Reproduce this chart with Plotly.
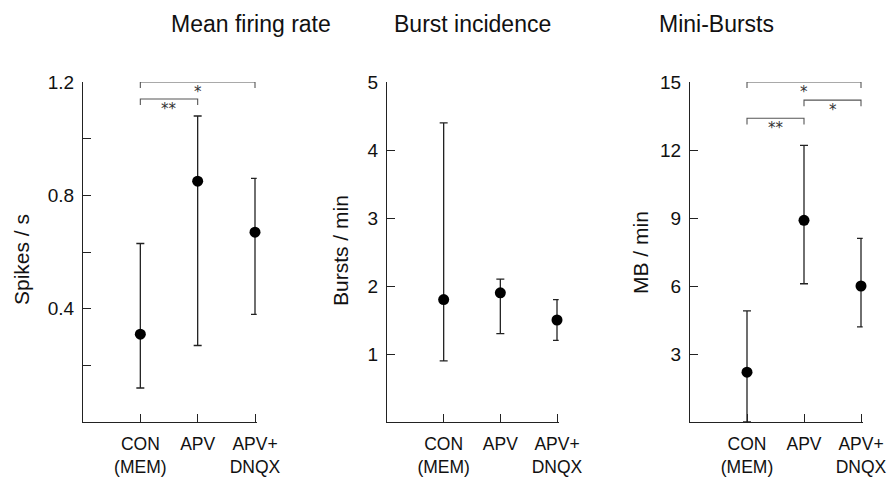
import plotly.graph_objects as go

categories = ["CON<br>(MEM)", "APV", "APV+<br>DNQX"]
cat_pos = [1, 2, 3]

titles = ["Mean firing rate", "Burst incidence", "Mini-Bursts"]
ylabels = ["Spikes / s", "Bursts / min", "MB / min"]

firing_mean = [0.31, 0.85, 0.67]
firing_upper = [0.63, 1.08, 0.86]
firing_lower = [0.12, 0.27, 0.38]

burst_mean = [1.8, 1.9, 1.5]
burst_upper = [4.4, 2.1, 1.8]
burst_lower = [0.9, 1.3, 1.2]

mini_mean = [2.2, 8.9, 6.0]
mini_upper = [4.9, 12.2, 8.1]
mini_lower = [0.0, 6.1, 4.2]

firing_ticks = [0.2, 0.4, 0.6, 0.8, 1.0, 1.2]
firing_ticktext = ["", "0.4", "", "0.8", "", "1.2"]
burst_ticks = [1, 2, 3, 4, 5]
mini_ticks = [3, 6, 9, 12, 15]

y_ranges = [[0, 1.2], [0, 5], [0, 15]]

# significance brackets: (panel index, from category, to category, level, label)
brackets = [
    (0, 1, 3, 1.2, "*"),
    (0, 1, 2, 1.14, "**"),
    (2, 1, 3, 15.0, "*"),
    (2, 2, 3, 14.2, "*"),
    (2, 1, 2, 13.4, "**"),
]

W, H = 888, 479
x_domains_px = [(83, 255), (387, 557), (690, 861)]
x_max = 3.03
y_top_px, y_bot_px = 82, 422
ytitle_pos_px = [(21, 260), (340, 251), (640, 253)]

fig = go.Figure()

series = [
    (firing_mean, firing_upper, firing_lower),
    (burst_mean, burst_upper, burst_lower),
    (mini_mean, mini_upper, mini_lower),
]
tickinfo = [
    (firing_ticks, firing_ticktext),
    (burst_ticks, [str(v) for v in burst_ticks]),
    (mini_ticks, [str(v) for v in mini_ticks]),
]

font_family = "Liberation Sans, Arial, sans-serif"

for i, (m, up, lo) in enumerate(series):
    xa = "x" if i == 0 else f"x{i+1}"
    ya = "y" if i == 0 else f"y{i+1}"
    fig.add_trace(go.Scatter(
        x=cat_pos, y=m, mode="markers",
        marker=dict(color="black", size=11),
        error_y=dict(type="data", symmetric=False,
                     array=[u - v for u, v in zip(up, m)],
                     arrayminus=[v - l for v, l in zip(m, lo)],
                     color="#222", thickness=1.3, width=4),
        xaxis=xa, yaxis=ya, showlegend=False, cliponaxis=False,
    ))
    d0, d3 = x_domains_px[i]
    d1 = d0 + (d3 - d0) * x_max / 3
    xkey = "xaxis" if i == 0 else f"xaxis{i+1}"
    ykey = "yaxis" if i == 0 else f"yaxis{i+1}"
    tv, tt = tickinfo[i]
    fig.update_layout(**{
        xkey: dict(domain=[d0 / W, d1 / W], range=[0, x_max], anchor=ya,
                   tickvals=cat_pos, ticktext=categories,
                   ticks="inside", ticklen=8, tickwidth=1.2, tickcolor="#222",
                   showline=True, linecolor="#222", linewidth=1.2,
                   showgrid=False, zeroline=False, ticklabelstandoff=6,
                   automargin=False,
                   tickfont=dict(size=17.5, color="#111", family=font_family)),
        ykey: dict(domain=[(H - y_bot_px) / H, (H - y_top_px) / H],
                   range=y_ranges[i], anchor=xa,
                   tickvals=tv, ticktext=tt,
                   ticks="inside", ticklen=8, tickwidth=1.2, tickcolor="#222",
                   showline=True, linecolor="#222", linewidth=1.2,
                   showgrid=False, zeroline=False, ticklabelstandoff=4,
                   automargin=False,
                   tickfont=dict(size=19, color="#111", family=font_family)),
    })
    # panel title
    fig.add_annotation(x=(d0 + d3) / 2 / W, y=1 - 24 / H, xref="paper", yref="paper",
                       text=titles[i], showarrow=False, yanchor="middle",
                       font=dict(size=23, color="#111", family=font_family))
    # y-axis title
    tx, ty = ytitle_pos_px[i]
    fig.add_annotation(x=tx / W, y=1 - ty / H, xref="paper", yref="paper",
                       text=ylabels[i], textangle=-90, showarrow=False,
                       xanchor="center", yanchor="middle",
                       font=dict(size=21, color="#111", family=font_family))

for (p, a, b, lvl, lab) in brackets:
    xa = "x" if p == 0 else f"x{p+1}"
    ya = "y" if p == 0 else f"y{p+1}"
    drop = (y_ranges[p][1] - y_ranges[p][0]) * 0.018
    fig.add_shape(type="path", xref=xa, yref=ya,
                  path=f"M {a},{lvl - drop} L {a},{lvl} L {b},{lvl} L {b},{lvl - drop}",
                  line=dict(color="#555", width=1.1))
    fig.add_annotation(x=(a + b) / 2, y=lvl, xref=xa, yref=ya, text=lab,
                       showarrow=False, yanchor="top", yshift=1,
                       font=dict(size=15, color="#333", family="DejaVu Sans"))

fig.update_layout(width=W, height=H, margin=dict(l=0, r=0, t=0, b=0, autoexpand=False),
                  autosize=False,
                  paper_bgcolor="white", plot_bgcolor="white")

fig.write_html("out.html", config={"responsive": False, "displayModeBar": False},
               post_script="document.body.style.margin='0px';document.body.style.overflow='hidden';")
